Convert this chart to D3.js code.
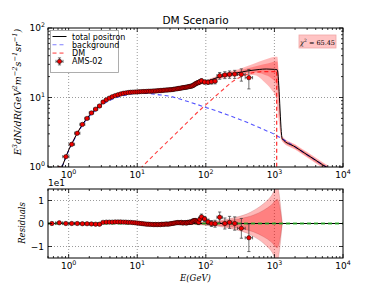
<!DOCTYPE html>
<html><head><meta charset="utf-8">
<script src="https://cdn.jsdelivr.net/npm/d3@7"></script>
<style>html,body{margin:0;padding:0;background:#fff}</style>
</head><body><svg id="c" width="382" height="287"></svg>
<script>
// ---------- data ----------
const energyEdges = [0.5,0.65,0.82,1.01,1.22,1.46,1.72,2.0,2.31,2.65,3.0,3.36,3.73,4.12,4.54,5.0,5.49,6.0,6.54,7.1,7.69,8.3,8.95,9.62,10.32,11.04,11.8,12.59,13.41,14.25,15.14,16.05,17.0,18.0,19.0,20.04,21.13,22.25,23.42,24.62,25.88,27.18,28.53,29.93,31.37,32.87,34.43,36.03,37.7,39.42,41.21,43.06,44.98,46.96,49.01,51.14,53.35,55.63,58.0,60.45,63.0,65.65,68.4,71.25,74.22,77.31,80.0,83.0,90,102,114,128,145,175,205,240,290,375,480];
const fluxValues = [0.62,0.95,1.41,2.12,3.06,4.1,5.0,6.0,6.8,7.55,
  8.6,9.25,9.8,10.25,10.65,10.95,11.25,11.5,11.65,11.8,
  11.9,11.95,12.0,12.05,12.1,12.15,12.2,12.2,12.25,12.3,
  12.3,12.35,12.4,12.4,12.5,12.55,12.6,12.6,12.7,12.75,
  12.8,12.85,12.9,12.95,13.0,13.1,13.2,13.3,13.4,13.5,
  13.6,13.7,13.8,13.9,14.0,14.1,14.2,14.35,14.5,14.6,
  14.8,15.2,15.6,16.0,16.3,16.4,16.9,17.4,16.7,16.6,
  16.9,17.2,20.6,21.1,21.5,21.7,21.5,19.3];
const fluxErrors = [0.02,0.03,0.05,0.07,0.09,0.12,0.14,0.16,0.18,0.2,
  0.22,0.23,0.24,0.25,0.26,0.27,0.28,0.29,0.3,0.3,
  0.31,0.31,0.32,0.32,0.33,0.33,0.34,0.34,0.35,0.35,
  0.36,0.37,0.38,0.39,0.4,0.41,0.42,0.43,0.44,0.45,
  0.46,0.47,0.48,0.5,0.52,0.54,0.56,0.58,0.6,0.62,
  0.64,0.66,0.68,0.7,0.72,0.74,0.76,0.78,0.8,0.82,
  0.85,0.88,0.9,0.92,0.95,0.98,1.0,1.2,1.1,1.2,
  1.3,1.5,2.3,2.4,2.6,2.9,4.3,6.0];
const residualValues = [0.0,0.03,0.0,0.0,0.0,-0.01,-0.01,-0.02,-0.03,-0.03,
  0.05,0.06,0.06,0.06,0.07,0.07,0.07,0.06,0.06,0.05,
  0.05,0.04,0.03,0.02,0.01,0.0,-0.01,-0.02,-0.03,-0.03,
  -0.04,-0.04,-0.05,-0.04,-0.05,-0.04,-0.05,-0.03,-0.04,-0.03,
  -0.02,-0.03,-0.02,-0.01,0.0,0.01,0.02,0.03,0.04,0.04,
  0.03,0.05,0.02,0.03,0.04,0.02,0.05,0.04,0.07,0.05,
  0.1,0.12,0.13,0.1,0.08,0.05,0.18,0.29,0.2,0.07,
  0.0,-0.01,0.27,0.0,0.05,0.0,-0.21,-0.62];

const modelE = [0.8,0.9,1.0,1.2,1.5,2,2.5,3,4,5,7,10,15,20,30,50,70,86,100,150,200,276,425,600,760,1000,1100,1300,2000,3000,4000,5000,6000];
const totalFlux = [1.0,1.35,1.75,2.5,3.75,5.5,6.8,8.0,9.6,10.6,11.5,12.0,12.4,12.7,12.9,13.9,14.9,16.0,16.8,19.5,21.2,22.5,24.3,25.3,25.7,25.4,25.0,2.55,1.95,1.5,1.25,1.08,0.97];
const bgE = [0.8,0.9,1.0,1.2,1.5,2,2.5,3,4,5,7,10,15,20,30,50,70,100,150,200,300,500,700,1000,1300,2000,3000,4000,5000,6000];
const bgFlux = [1.0,1.33,1.72,2.45,3.65,5.35,6.6,7.75,9.1,10.0,10.9,11.5,11.4,11.0,10.4,9.0,8.1,7.2,6.3,5.7,4.9,4.0,3.45,2.95,2.55,1.95,1.5,1.25,1.08,0.97];
const dmE = [11,20,30,50,82,120,170,245,350,500,700,1000,1080,1090];
const dmFlux = [0.94,1.7,2.5,4.1,6.6,9.2,12.5,16.9,20.5,22.8,23.6,23.6,23.5,0.1];

const bandE = [0.8,1,2,5,10,20,50,100,200,300,500,700,900,1050,1100,1300,2000,3000,5000,6000];
const bandHi2 = [1.03,1.8,5.65,10.85,12.25,12.95,14.3,17.6,23.0,25.5,30.5,34.5,37.5,38.6,38.6,2.78,2.13,1.64,1.18,1.06];
const bandHi1 = [1.02,1.78,5.58,10.75,12.15,12.85,14.1,17.2,22.2,24.3,27.8,30.0,32.0,33.0,33.0,2.68,2.05,1.58,1.13,1.02];
const bandLo1 = [0.98,1.72,5.42,10.45,11.85,12.55,13.7,16.4,20.2,21.6,22.8,21.5,19.0,16.0,14.0,2.42,1.85,1.42,1.03,0.92];
const bandLo2 = [0.97,1.7,5.35,10.35,11.75,12.45,13.5,16.0,19.4,20.4,21.0,17.0,13.0,10.0,7.0,2.33,1.78,1.37,0.98,0.88];

const resBandE = [0.5,10,30,50,80,100,150,200,300,400,500,700,900,1100,1300];
const resBandInner = [0.005,0.005,0.01,0.02,0.035,0.05,0.08,0.12,0.2,0.28,0.37,0.58,0.8,1.05,0.0];
const resBandOuter = [0.01,0.01,0.02,0.03,0.05,0.075,0.12,0.18,0.3,0.42,0.57,0.87,1.2,1.6,0.0];

const xDecades = [1,10,100,1000,10000];
const yTopDecades = [1,10,100];
const yResTicks = [-1,0,1];
const legendLabels = ["total positron","background","DM","AMS-02"];
const chi2Text = "65.45";

// ---------- layout ----------
const svg = d3.select("#c");
const L = 48, R = 343, T1 = 28, B1 = 167, T2 = 189, B2 = 258;
const x = d3.scaleLog().domain([0.5,1e4]).range([L,R]);
const yT = d3.scaleLog().domain([1,100]).range([B1,T1]);
const yR = d3.scaleLinear().domain([-1.5,1.5]).range([B2,T2]);
const sans = "DejaVu Sans, sans-serif", serif = "DejaVu Serif, serif";

const defs = svg.append("defs");
defs.append("clipPath").attr("id","c1").append("rect").attr("x",L).attr("y",T1).attr("width",R-L).attr("height",B1-T1);
defs.append("clipPath").attr("id","c2").append("rect").attr("x",L).attr("y",T2).attr("width",R-L).attr("height",B2-T2);

const safeY = v => yT(Math.max(v, 0.01));
const bins = d3.range(energyEdges.length-1).map(i => ({
  lo: energyEdges[i], hi: energyEdges[i+1], e: Math.sqrt(energyEdges[i]*energyEdges[i+1]),
  v: fluxValues[i], err: fluxErrors[i], r: residualValues[i], rerr: fluxErrors[i]/10
}));

function grid(g, yScale, yTicks, top, bottom) {
  xDecades.slice(0,4).forEach(d => g.append("line").attr("x1",x(d)).attr("x2",x(d)).attr("y1",top).attr("y2",bottom)
    .attr("stroke","#555").attr("stroke-width",0.6).attr("stroke-dasharray","1,2"));
  yTicks.forEach(t => g.append("line").attr("x1",L).attr("x2",R).attr("y1",yScale(t)).attr("y2",yScale(t))
    .attr("stroke","#555").attr("stroke-width",0.6).attr("stroke-dasharray","1,2"));
}

// ---------- top panel ----------
const p1 = svg.append("g");
grid(p1, yT, [10], T1, B1);
const c1 = p1.append("g").attr("clip-path","url(#c1)");
const idxB = d3.range(bandE.length);
const areaTop = (lo, hi) => d3.area().curve(d3.curveMonotoneX).x(i => x(bandE[i])).y0(i => safeY(lo[i])).y1(i => safeY(hi[i]));
c1.append("path").attr("d", areaTop(bandLo2,bandHi2)(idxB)).attr("fill","rgba(255,0,0,0.28)");
c1.append("path").attr("d", areaTop(bandLo1,bandHi1)(idxB)).attr("fill","rgba(255,0,0,0.28)");
const lineXY = (xs, ys) => d3.line().curve(d3.curveMonotoneX).x(i => x(xs[i])).y(i => safeY(ys[i]))(d3.range(xs.length));
c1.append("path").attr("d", lineXY(bgE,bgFlux)).attr("fill","none").attr("stroke","rgba(40,40,255,0.8)").attr("stroke-width",1.1).attr("stroke-dasharray","4,3");
c1.append("path").attr("d", d3.line().x(i => x(dmE[i])).y(i => safeY(dmFlux[i])).curve(d3.curveMonotoneX)(d3.range(dmE.length-1)))
  .attr("fill","none").attr("stroke","rgba(255,0,0,0.75)").attr("stroke-width",1.1).attr("stroke-dasharray","4,3");
c1.append("line").attr("x1",x(dmE[dmE.length-2])).attr("x2",x(dmE[dmE.length-2])).attr("y1",safeY(dmFlux[dmFlux.length-2])).attr("y2",B1)
  .attr("stroke","rgba(255,0,0,0.9)").attr("stroke-width",1.1).attr("stroke-dasharray","4,3");
c1.append("path").attr("d", lineXY(modelE,totalFlux)).attr("fill","none").attr("stroke","#000").attr("stroke-width",1);

function drawPoints(g, ys, val, err) {
  const eb = g.append("g").attr("stroke","#333").attr("stroke-width",0.7);
  bins.forEach(b => {
    const px = x(b.e), py = ys(val(b));
    const y0 = ys(val(b)-err(b)), y1 = ys(val(b)+err(b));
    const xa = x(b.lo), xb = x(b.hi);
    eb.append("line").attr("x1",px).attr("x2",px).attr("y1",y0).attr("y2",y1);
    eb.append("line").attr("x1",px-1.6).attr("x2",px+1.6).attr("y1",y0).attr("y2",y0);
    eb.append("line").attr("x1",px-1.6).attr("x2",px+1.6).attr("y1",y1).attr("y2",y1);
    eb.append("line").attr("x1",xa).attr("x2",xb).attr("y1",py).attr("y2",py);
    eb.append("line").attr("x1",xa).attr("x2",xa).attr("y1",py-1.6).attr("y2",py+1.6);
    eb.append("line").attr("x1",xb).attr("x2",xb).attr("y1",py-1.6).attr("y2",py+1.6);
  });
  g.append("g").selectAll("circle").data(bins).join("circle")
    .attr("cx", b => x(b.e)).attr("cy", b => ys(val(b))).attr("r",2.2)
    .attr("fill","#e00").attr("stroke","#000").attr("stroke-width",0.5);
}
drawPoints(c1, safeY, b => b.v, b => b.err);

// ---------- bottom panel ----------
const p2 = svg.append("g");
grid(p2, yR, yResTicks, T2, B2);
const c2 = p2.append("g").attr("clip-path","url(#c2)");
const idxR = d3.range(resBandE.length);
const areaRes = w => d3.area().curve(d3.curveMonotoneX).x(i => x(resBandE[i])).y0(i => yR(-w[i])).y1(i => yR(w[i]));
c2.append("path").attr("d", areaRes(resBandOuter)(idxR)).attr("fill","rgba(255,0,0,0.28)").attr("stroke","rgba(120,0,0,0.25)").attr("stroke-width",0.6);
c2.append("path").attr("d", areaRes(resBandInner)(idxR)).attr("fill","rgba(255,0,0,0.3)").attr("stroke","rgba(120,0,0,0.25)").attr("stroke-width",0.6);
c2.append("line").attr("x1",L).attr("x2",R).attr("y1",yR(0)).attr("y2",yR(0)).attr("stroke","#000").attr("stroke-width",1);
c2.append("line").attr("x1",L).attr("x2",R).attr("y1",yR(0)).attr("y2",yR(0)).attr("stroke","rgba(40,170,40,0.85)").attr("stroke-width",2).attr("stroke-dasharray","4,3");
drawPoints(c2, yR, b => b.r, b => b.rerr);

// ---------- frames & ticks ----------
function frame(top, bottom, yScale, yMajors, yMinors) {
  const g = svg.append("g").attr("stroke","#000").attr("stroke-width",0.8);
  g.append("rect").attr("x",L).attr("y",top).attr("width",R-L).attr("height",bottom-top).attr("fill","none").attr("stroke-width",1);
  const xMin = [];
  [0.1,1,10,100,1000].forEach(d => d3.range(2,10).forEach(k => { const v = d*k; if (v >= 0.5 && v <= 1e4) xMin.push(v); }));
  xDecades.forEach(d => { g.append("line").attr("x1",x(d)).attr("x2",x(d)).attr("y1",bottom).attr("y2",bottom-4);
                          g.append("line").attr("x1",x(d)).attr("x2",x(d)).attr("y1",top).attr("y2",top+4); });
  xMin.forEach(d => { g.append("line").attr("x1",x(d)).attr("x2",x(d)).attr("y1",bottom).attr("y2",bottom-2);
                      g.append("line").attr("x1",x(d)).attr("x2",x(d)).attr("y1",top).attr("y2",top+2); });
  yMajors.forEach(t => { g.append("line").attr("x1",L).attr("x2",L+4).attr("y1",yScale(t)).attr("y2",yScale(t));
                         g.append("line").attr("x1",R).attr("x2",R-4).attr("y1",yScale(t)).attr("y2",yScale(t)); });
  yMinors.forEach(t => { g.append("line").attr("x1",L).attr("x2",L+2).attr("y1",yScale(t)).attr("y2",yScale(t));
                         g.append("line").attr("x1",R).attr("x2",R-2).attr("y1",yScale(t)).attr("y2",yScale(t)); });
  xDecades.forEach(d => {
    const t = svg.append("text").attr("x",x(d)).attr("y",bottom+11).attr("text-anchor","middle")
      .attr("font-family",sans).attr("font-size",9).attr("fill","#000");
    t.append("tspan").text("10");
    t.append("tspan").attr("font-size",6.3).attr("dy",-4).text(Math.round(Math.log10(d)));
  });
}
const yTopMinors = [];
[1,10].forEach(d => d3.range(2,10).forEach(k => yTopMinors.push(d*k)));
frame(T1, B1, yT, yTopDecades, yTopMinors);
frame(T2, B2, yR, yResTicks, []);

yTopDecades.forEach(d => {
  const t = svg.append("text").attr("x",45).attr("y",yT(d)+3).attr("text-anchor","end")
    .attr("font-family",sans).attr("font-size",9);
  t.append("tspan").text("10");
  t.append("tspan").attr("font-size",6.3).attr("dy",-4).text(Math.round(Math.log10(d)));
});
yResTicks.forEach(v => svg.append("text").attr("x",44).attr("y",yR(v)+3).attr("text-anchor","end")
  .attr("font-family",sans).attr("font-size",9).text(v < 0 ? "\u2212" + Math.abs(v) : String(v)));
svg.append("text").attr("x",L).attr("y",T2-3).attr("font-family",sans).attr("font-size",9).text("1e1");

// ---------- labels ----------
svg.append("text").attr("x",(L+R)/2).attr("y",24).attr("text-anchor","middle").attr("font-family",sans).attr("font-size",10.5).text("DM Scenario");

function mathText(parent, segs, size) {
  let sup = false;
  segs.forEach(s => {
    const ts = parent.append("tspan").text(s[0]);
    const wantSup = !!s[1];
    if (wantSup && !sup) { ts.attr("dy",-3.8).attr("font-size",size*0.7); sup = true; }
    else if (wantSup) { ts.attr("font-size",size*0.7); }
    else if (!wantSup && sup) { ts.attr("dy",3.8); sup = false; }
  });
}
const yl = svg.append("text").attr("transform","translate(21,92) rotate(-90)").attr("text-anchor","middle")
  .attr("font-family",serif).attr("font-style","italic").attr("font-size",9.5);
mathText(yl, [["E"],["3",1],["dN/dR(GeV"],["2",1],["m"],["\u22122",1],["s"],["\u22121",1],["sr"],["\u22121",1],[")"]], 9.5);
svg.append("text").attr("transform","translate(25,223) rotate(-90)").attr("text-anchor","middle")
  .attr("font-family",serif).attr("font-style","italic").attr("font-size",8.5).text("Residuals");
svg.append("text").attr("x",(L+R)/2).attr("y",281).attr("text-anchor","middle")
  .attr("font-family",serif).attr("font-style","italic").attr("font-size",8.5).text("E(GeV)");

// chi2 box
svg.append("rect").attr("x",299).attr("y",35).attr("width",37).attr("height",13).attr("fill","#ffc4c4").attr("stroke","#f0a8a8").attr("stroke-width",0.8);
const ct = svg.append("text").attr("x",317.5).attr("y",44.5).attr("text-anchor","middle").attr("font-family",serif).attr("font-size",6.5);
ct.append("tspan").attr("font-style","italic").text("\u03c7");
ct.append("tspan").attr("font-size",4.5).attr("dy",-2.5).text("2");
ct.append("tspan").attr("dy",2.5).text(" = " + chi2Text);

// legend
const lg = svg.append("g");
lg.append("rect").attr("x",50.5).attr("y",30.5).attr("width",68).attr("height",42).attr("fill","#fff").attr("stroke","#999").attr("stroke-width",0.8);
const rowsY = [36.5, 44.8, 53.1, 61.4];
lg.append("line").attr("x1",52.5).attr("x2",66.5).attr("y1",rowsY[0]).attr("y2",rowsY[0]).attr("stroke","#000").attr("stroke-width",1);
lg.append("line").attr("x1",52.5).attr("x2",66.5).attr("y1",rowsY[1]).attr("y2",rowsY[1]).attr("stroke","rgba(40,40,255,0.6)").attr("stroke-width",1.1).attr("stroke-dasharray","4,3");
lg.append("line").attr("x1",52.5).attr("x2",66.5).attr("y1",rowsY[2]).attr("y2",rowsY[2]).attr("stroke","rgba(255,0,0,0.45)").attr("stroke-width",1.6).attr("stroke-dasharray","4,3");
const mx = 59.5, my = rowsY[3];
const lm = lg.append("g").attr("stroke","#333").attr("stroke-width",0.7);
lm.append("line").attr("x1",mx-3.5).attr("x2",mx+3.5).attr("y1",my).attr("y2",my);
lm.append("line").attr("x1",mx).attr("x2",mx).attr("y1",my-3.5).attr("y2",my+3.5);
[-3.5,3.5].forEach(o => { lm.append("line").attr("x1",mx+o).attr("x2",mx+o).attr("y1",my-1.6).attr("y2",my+1.6);
                          lm.append("line").attr("x1",mx-1.6).attr("x2",mx+1.6).attr("y1",my+o).attr("y2",my+o); });
lg.append("circle").attr("cx",mx).attr("cy",my).attr("r",2.2).attr("fill","#e00").attr("stroke","#000").attr("stroke-width",0.5);
legendLabels.forEach((s,i) => lg.append("text").attr("x",72).attr("y",rowsY[i]+3).attr("font-family",sans).attr("font-size",8).text(s));
</script></body></html>
